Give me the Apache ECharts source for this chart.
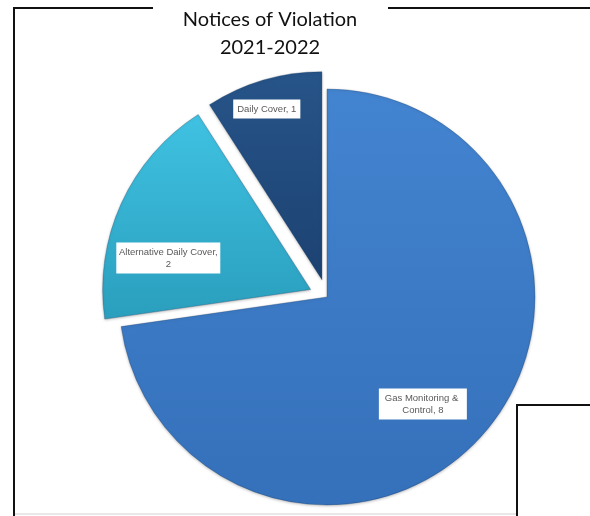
<!DOCTYPE html>
<html>
<head>
<meta charset="utf-8">
<script src="https://cdn.jsdelivr.net/npm/echarts@6/dist/echarts.min.js"></script>
<style>
  html, body { margin: 0; padding: 0; background: #fff; }
  #chart { width: 590px; height: 516px; }
</style>
</head>
<body>
<div id="chart"></div>
<script>
// Notices of Violation by category, 2021-2022
const categories = ['Gas Monitoring & Control', 'Alternative Daily Cover', 'Daily Cover'];
const counts = [8, 2, 1];
const pulledOut = [false, true, true];

const sliceColors = [
  ['#4384d0', '#3570ba'],
  ['#40c2e2', '#2a9ebd'],
  ['#275489', '#1c4271']
];
// label box width (null = natural), text template, wrapping and nudge from the default inside position
const labelWidth = [80, 96, null];
const labelFormat = ['{b}, {c}', '{b},\n{c}', '{b}, {c}'];
const labelWrap = ['break', 'none', 'none'];
const labelNudge = [[15, 37], [-45, 13], [-25, -68]];

const chart = echarts.init(document.getElementById('chart'));

const data = categories.map((name, i) => {
  const label = { formatter: labelFormat[i], overflow: labelWrap[i] };
  if (labelWidth[i]) label.width = labelWidth[i];
  return {
    name: name,
    value: counts[i],
    selected: pulledOut[i],
    itemStyle: {
      color: {
        type: 'linear', x: 0, y: 0, x2: 0, y2: 1,
        colorStops: [
          { offset: 0, color: sliceColors[i][0] },
          { offset: 1, color: sliceColors[i][1] }
        ]
      }
    },
    label: label
  };
});

chart.setOption({
  animation: false,
  title: {
    text: 'Notices of Violation\n2021-2022',
    left: 265,
    textAlign: 'center',
    top: 1,
    textStyle: {
      fontFamily: 'Lato',
      fontWeight: 'normal',
      fontSize: 20,
      lineHeight: 28,
      color: '#111'
    }
  },
  graphic: [
    { type: 'polyline', shape: { points: [[14, 516], [14, 8], [153, 8]] },
      style: { stroke: '#111', lineWidth: 2, fill: null } },
    { type: 'line', shape: { x1: 388, y1: 8, x2: 590, y2: 8 },
      style: { stroke: '#111', lineWidth: 2 } },
    { type: 'polyline', shape: { points: [[517, 516], [517, 405], [590, 405]] },
      style: { stroke: '#111', lineWidth: 2, fill: null } },
    { type: 'line', shape: { x1: 15, y1: 514, x2: 516, y2: 514 },
      style: { stroke: '#d0d0d0', lineWidth: 1 } }
  ],
  series: [{
    type: 'pie',
    center: [327, 297],
    radius: 208,
    startAngle: 90,
    clockwise: true,
    selectedMode: 'multiple',
    selectedOffset: 18,
    emphasis: { disabled: true },
    itemStyle: {
      borderColor: 'rgba(20,50,90,0.35)',
      borderWidth: 0.8,
      shadowColor: 'rgba(0,0,0,0.25)',
      shadowBlur: 3,
      shadowOffsetY: 1
    },
    label: {
      position: 'inside',
      align: 'center',
      color: '#595959',
      fontFamily: 'Liberation Sans',
      fontSize: 9.5,
      lineHeight: 12,
      backgroundColor: '#ffffff',
      padding: [3.5, 4]
    },
    labelLine: { show: false },
    labelLayout: function (p) {
      const n = labelNudge[p.dataIndex];
      return { dx: n[0], dy: n[1] };
    },
    data: data
  }]
});
</script>
</body>
</html>
